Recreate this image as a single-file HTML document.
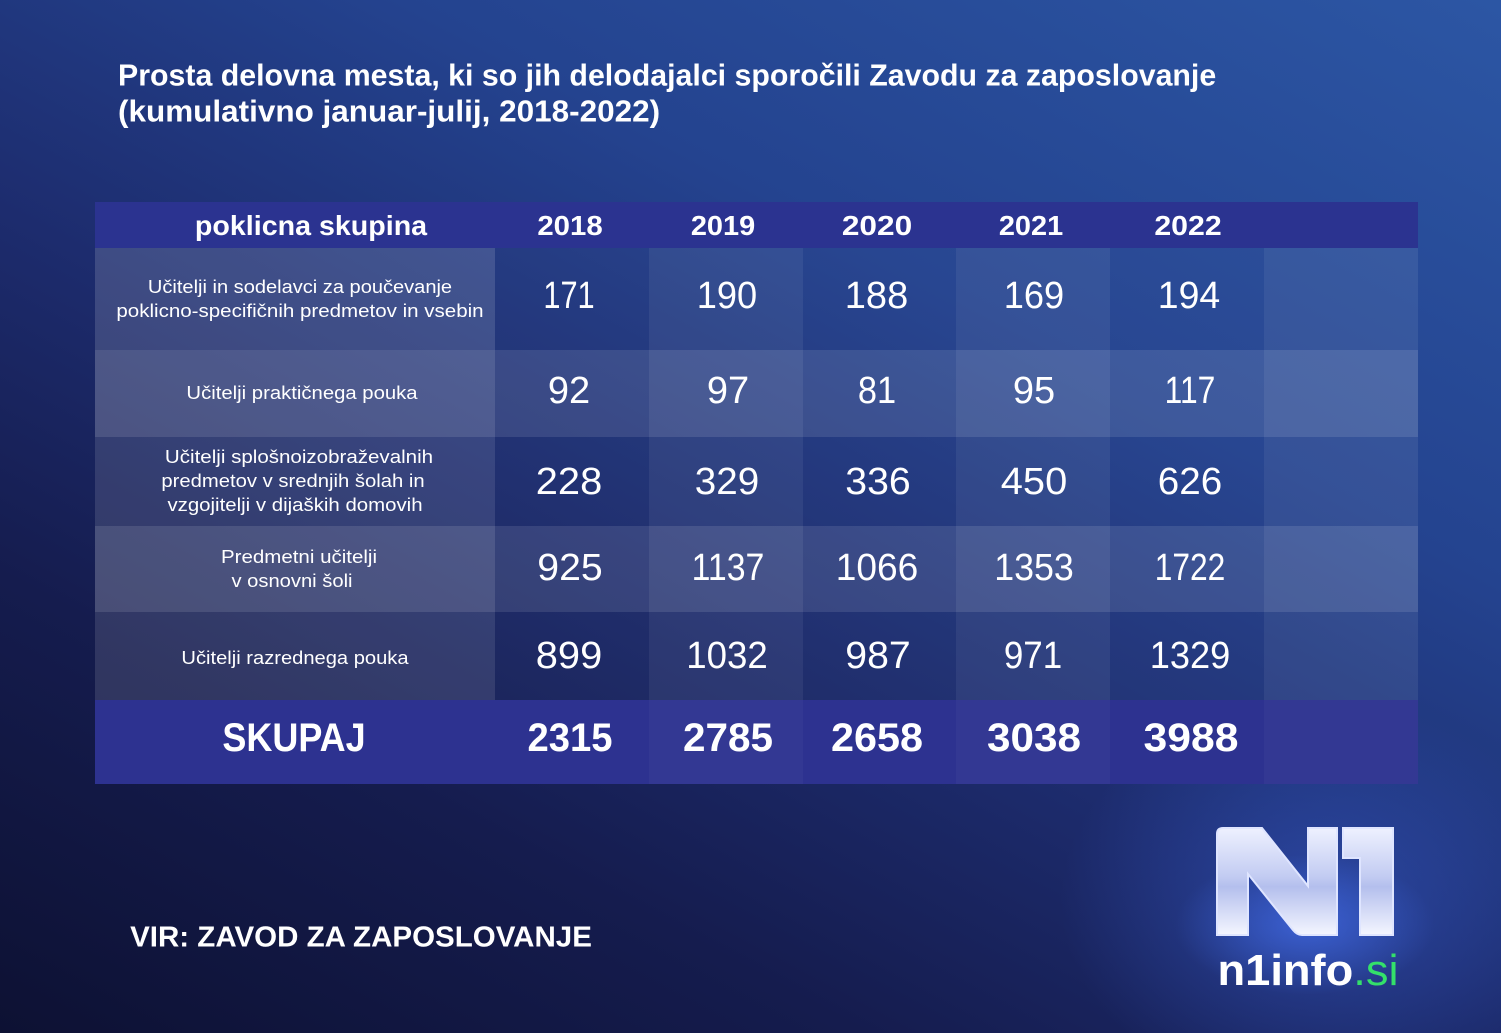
<!DOCTYPE html>
<html><head><meta charset="utf-8">
<style>
html,body{margin:0;padding:0;width:1501px;height:1033px;overflow:hidden;background:#151c4e}
#wrap{position:relative;width:1501px;height:1033px;overflow:hidden;font-family:"Liberation Sans",sans-serif;color:#fff;
background:
radial-gradient(ellipse 260px 200px at 1320px 900px, rgba(60,100,220,0.45), rgba(60,100,220,0) 100%),
linear-gradient(28deg,#0d1133 0%,#151c4e 25%,#1d2c6e 45%,#24438f 68%,#2c56a4 100%);}
.cell{position:absolute}
.t{position:absolute;white-space:nowrap;line-height:1;transform-origin:50% 50%;transform:translate(-50%,-50%) scaleX(0.9)}
.l{transform-origin:0 50%;transform:translateY(-50%) scaleX(0.9)}
.b{font-weight:bold}
.lab{font-size:18px}
.v{font-size:38px}
.y{font-size:28px;font-weight:bold}
.tot{font-size:40px;font-weight:bold}
</style></head><body>
<div id="wrap">

<!-- header row -->
<div class="cell" style="left:95px;top:202px;width:1323px;height:46px;background:#2b3390"></div>
<!-- body cells -->
<div class="cell" style="left:95px;top:248px;width:400px;height:102px;background:rgba(255,255,255,0.15)"></div>
<div class="cell" style="left:95px;top:350px;width:400px;height:87px;background:rgba(255,255,255,0.22)"></div>
<div class="cell" style="left:95px;top:437px;width:400px;height:89px;background:rgba(255,255,255,0.12)"></div>
<div class="cell" style="left:95px;top:526px;width:400px;height:86px;background:rgba(255,255,255,0.22)"></div>
<div class="cell" style="left:95px;top:612px;width:400px;height:88px;background:rgba(255,255,255,0.12)"></div>

<div class="cell" style="left:495px;top:248px;width:154px;height:102px;background:rgba(255,255,255,0.02)"></div>
<div class="cell" style="left:649px;top:248px;width:154px;height:102px;background:rgba(255,255,255,0.08)"></div>
<div class="cell" style="left:803px;top:248px;width:153px;height:102px;background:rgba(255,255,255,0.02)"></div>
<div class="cell" style="left:956px;top:248px;width:154px;height:102px;background:rgba(255,255,255,0.08)"></div>
<div class="cell" style="left:1110px;top:248px;width:154px;height:102px;background:rgba(255,255,255,0.02)"></div>
<div class="cell" style="left:1264px;top:248px;width:154px;height:102px;background:rgba(255,255,255,0.08)"></div>

<div class="cell" style="left:495px;top:350px;width:154px;height:87px;background:rgba(255,255,255,0.12)"></div>
<div class="cell" style="left:649px;top:350px;width:154px;height:87px;background:rgba(255,255,255,0.18)"></div>
<div class="cell" style="left:803px;top:350px;width:153px;height:87px;background:rgba(255,255,255,0.12)"></div>
<div class="cell" style="left:956px;top:350px;width:154px;height:87px;background:rgba(255,255,255,0.18)"></div>
<div class="cell" style="left:1110px;top:350px;width:154px;height:87px;background:rgba(255,255,255,0.12)"></div>
<div class="cell" style="left:1264px;top:350px;width:154px;height:87px;background:rgba(255,255,255,0.18)"></div>

<div class="cell" style="left:495px;top:437px;width:154px;height:89px;background:rgba(255,255,255,0.02)"></div>
<div class="cell" style="left:649px;top:437px;width:154px;height:89px;background:rgba(255,255,255,0.08)"></div>
<div class="cell" style="left:803px;top:437px;width:153px;height:89px;background:rgba(255,255,255,0.02)"></div>
<div class="cell" style="left:956px;top:437px;width:154px;height:89px;background:rgba(255,255,255,0.08)"></div>
<div class="cell" style="left:1110px;top:437px;width:154px;height:89px;background:rgba(255,255,255,0.02)"></div>
<div class="cell" style="left:1264px;top:437px;width:154px;height:89px;background:rgba(255,255,255,0.08)"></div>

<div class="cell" style="left:495px;top:526px;width:154px;height:86px;background:rgba(255,255,255,0.12)"></div>
<div class="cell" style="left:649px;top:526px;width:154px;height:86px;background:rgba(255,255,255,0.18)"></div>
<div class="cell" style="left:803px;top:526px;width:153px;height:86px;background:rgba(255,255,255,0.12)"></div>
<div class="cell" style="left:956px;top:526px;width:154px;height:86px;background:rgba(255,255,255,0.18)"></div>
<div class="cell" style="left:1110px;top:526px;width:154px;height:86px;background:rgba(255,255,255,0.12)"></div>
<div class="cell" style="left:1264px;top:526px;width:154px;height:86px;background:rgba(255,255,255,0.18)"></div>

<div class="cell" style="left:495px;top:612px;width:154px;height:88px;background:rgba(255,255,255,0.02)"></div>
<div class="cell" style="left:649px;top:612px;width:154px;height:88px;background:rgba(255,255,255,0.08)"></div>
<div class="cell" style="left:803px;top:612px;width:153px;height:88px;background:rgba(255,255,255,0.02)"></div>
<div class="cell" style="left:956px;top:612px;width:154px;height:88px;background:rgba(255,255,255,0.08)"></div>
<div class="cell" style="left:1110px;top:612px;width:154px;height:88px;background:rgba(255,255,255,0.02)"></div>
<div class="cell" style="left:1264px;top:612px;width:154px;height:88px;background:rgba(255,255,255,0.08)"></div>

<!-- total row -->
<div class="cell" style="left:95px;top:700px;width:1323px;height:84px;background:#2d3290"></div>
<div class="cell" style="left:649px;top:700px;width:154px;height:84px;background:rgba(255,255,255,0.03)"></div>
<div class="cell" style="left:956px;top:700px;width:154px;height:84px;background:rgba(255,255,255,0.03)"></div>
<div class="cell" style="left:1264px;top:700px;width:154px;height:84px;background:rgba(255,255,255,0.03)"></div>

<!-- title -->
<div class="t l b" style="left:118px;top:75px;font-size:31px;--w:1098">Prosta delovna mesta, ki so jih delodajalci sporočili Zavodu za zaposlovanje</div>
<div class="t l b" style="left:118px;top:111px;font-size:31px;--w:542">(kumulativno januar-julij, 2018-2022)</div>

<!-- header -->
<div class="t b" style="left:311px;top:226px;font-size:28px;--w:232">poklicna skupina</div>
<div class="t y" style="left:570px;top:226px;--w:65">2018</div>
<div class="t y" style="left:723px;top:226px;--w:64">2019</div>
<div class="t y" style="left:877px;top:226px;--w:70">2020</div>
<div class="t y" style="left:1031px;top:226px;--w:64">2021</div>
<div class="t y" style="left:1188px;top:226px;--w:67">2022</div>

<!-- row 1 -->
<div class="t lab" style="left:300px;top:287px;--w:304">Učitelji in sodelavci za poučevanje</div>
<div class="t lab" style="left:299.5px;top:311px;--w:367">poklicno-specifičnih predmetov in vsebin</div>
<div class="t v" style="left:568.5px;top:296px;--w:51">171</div>
<div class="t v" style="left:727px;top:296px;--w:60">190</div>
<div class="t v" style="left:876.5px;top:296px;--w:63">188</div>
<div class="t v" style="left:1034px;top:296px;--w:60">169</div>
<div class="t v" style="left:1189px;top:296px;--w:62">194</div>

<!-- row 2 -->
<div class="t lab" style="left:301.5px;top:393px;--w:231">Učitelji praktičnega pouka</div>
<div class="t v" style="left:569px;top:391px;--w:42">92</div>
<div class="t v" style="left:728px;top:391px;--w:42">97</div>
<div class="t v" style="left:877px;top:391px;--w:38">81</div>
<div class="t v" style="left:1034px;top:391px;--w:42">95</div>
<div class="t v" style="left:1189.5px;top:391px;--w:51">117</div>

<!-- row 3 -->
<div class="t lab" style="left:299px;top:457px;--w:268">Učitelji splošnoizobraževalnih</div>
<div class="t lab" style="left:292.5px;top:481px;--w:263">predmetov v srednjih šolah in</div>
<div class="t lab" style="left:294.5px;top:505px;--w:255">vzgojitelji v dijaških domovih</div>
<div class="t v" style="left:569px;top:482px;--w:66">228</div>
<div class="t v" style="left:727px;top:482px;--w:64">329</div>
<div class="t v" style="left:877.5px;top:482px;--w:65">336</div>
<div class="t v" style="left:1034px;top:482px;--w:66">450</div>
<div class="t v" style="left:1190px;top:482px;--w:64">626</div>

<!-- row 4 -->
<div class="t lab" style="left:299px;top:557px;--w:156">Predmetni učitelji</div>
<div class="t lab" style="left:291.5px;top:581px;--w:121">v osnovni šoli</div>
<div class="t v" style="left:569.5px;top:568px;--w:65">925</div>
<div class="t v" style="left:727.5px;top:568px;--w:73">1137</div>
<div class="t v" style="left:876.5px;top:568px;--w:83">1066</div>
<div class="t v" style="left:1034px;top:568px;--w:80">1353</div>
<div class="t v" style="left:1189.5px;top:568px;--w:71">1722</div>

<!-- row 5 -->
<div class="t lab" style="left:294.5px;top:658px;--w:227">Učitelji razrednega pouka</div>
<div class="t v" style="left:569px;top:656px;--w:66">899</div>
<div class="t v" style="left:727px;top:656px;--w:82">1032</div>
<div class="t v" style="left:877.5px;top:656px;--w:65">987</div>
<div class="t v" style="left:1033px;top:656px;--w:58">971</div>
<div class="t v" style="left:1189.5px;top:656px;--w:81">1329</div>

<!-- total -->
<div class="t tot" style="left:293.5px;top:738px;--w:143">SKUPAJ</div>
<div class="t tot" style="left:569.5px;top:738px;--w:85">2315</div>
<div class="t tot" style="left:728px;top:738px;--w:90">2785</div>
<div class="t tot" style="left:877px;top:738px;--w:92">2658</div>
<div class="t tot" style="left:1034px;top:738px;--w:94">3038</div>
<div class="t tot" style="left:1190.5px;top:738px;--w:95">3988</div>

<!-- source -->
<div class="t b" style="left:361px;top:938px;font-size:29px;--w:462">VIR: ZAVOD ZA ZAPOSLOVANJE</div>

<!-- logo -->
<svg style="position:absolute;left:0;top:0" width="1501" height="1033" viewBox="0 0 1501 1033">
<defs>
<linearGradient id="lg" x1="0" y1="0" x2="0" y2="1">
<stop offset="0" stop-color="#eef1ff"/>
<stop offset="0.45" stop-color="#c3ccf2"/>
<stop offset="0.55" stop-color="#b4bfed"/>
<stop offset="1" stop-color="#f4f6ff"/>
</linearGradient>
<radialGradient id="glow" cx="0.5" cy="0.5" r="0.5">
<stop offset="0" stop-color="#4a78ff" stop-opacity="0.55"/>
<stop offset="1" stop-color="#4a78ff" stop-opacity="0"/>
</radialGradient>
</defs>
<ellipse cx="1305" cy="925" rx="130" ry="70" fill="url(#glow)"/>
<path d="M1217,834 Q1217,828 1223,828 L1262,828 L1308,886 L1308,828 L1337,828 L1337,935 L1302,935 Q1297,935 1293,930 L1248,874 L1248,935 L1217,935 Z" fill="url(#lg)" stroke="#dfe5ff" stroke-width="2"/>
<path d="M1343,828 L1393,828 L1393,935 L1360,935 L1360,858 L1343,858 Z" fill="url(#lg)" stroke="#dfe5ff" stroke-width="2"/>
</svg>
<div class="t b" style="left:1307.5px;top:971px;font-size:44px;--w:181">n1info<span style="color:#34e06a;font-weight:normal">.si</span></div>

</div>
<script>
(function(){
  var els=document.querySelectorAll('.t');
  for(var i=0;i<els.length;i++){
    var e=els[i];
    var w=parseFloat(getComputedStyle(e).getPropertyValue('--w'));
    if(!w)continue;
    var aw=e.offsetWidth;
    if(!aw)continue;
    var s=w/aw;
    if(e.classList.contains('l')){
      e.style.transform='translateY(-50%) scaleX('+s+')';
    }else{
      e.style.transform='translate(-50%,-50%) scaleX('+s+')';
    }
  }
})();
</script>
</body></html>
